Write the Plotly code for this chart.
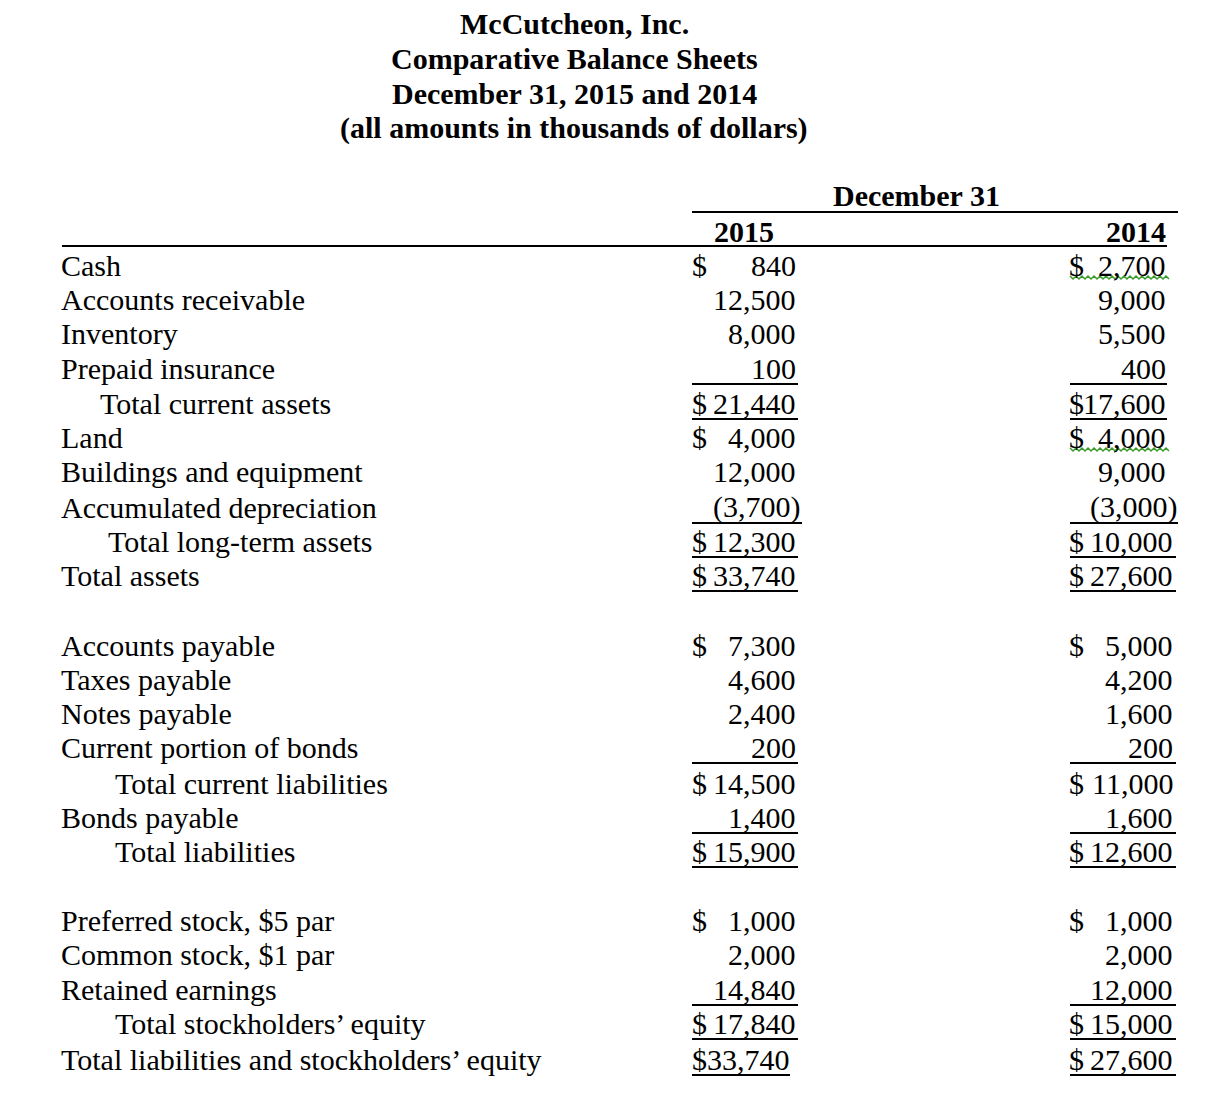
import plotly.graph_objects as go

# ---------------- data ----------------
title_lines = ["McCutcheon, Inc.", "Comparative Balance Sheets",
               "December 31, 2015 and 2014", "(all amounts in thousands of dollars)"]
group_header = "December 31"
years = ["2015", "2014"]

labels = [
    "Cash", "Accounts receivable", "Inventory", "Prepaid insurance",
    "Total current assets", "Land", "Buildings and equipment",
    "Accumulated depreciation", "Total long-term assets", "Total assets",
    "Accounts payable", "Taxes payable", "Notes payable",
    "Current portion of bonds", "Total current liabilities", "Bonds payable",
    "Total liabilities",
    "Preferred stock, $5 par", "Common stock, $1 par", "Retained earnings",
    "Total stockholders’ equity", "Total liabilities and stockholders’ equity",
]
values_2015 = [840, 12500, 8000, 100, 21440, 4000, 12000, -3700, 12300, 33740,
               7300, 4600, 2400, 200, 14500, 1400, 15900,
               1000, 2000, 14840, 17840, 33740]
values_2014 = [2700, 9000, 5500, 400, 17600, 4000, 9000, -3000, 10000, 27600,
               5000, 4200, 1600, 200, 11000, 1600, 12600,
               1000, 2000, 12000, 15000, 27600]
dollar_rows = [0, 4, 5, 8, 9, 10, 14, 16, 17, 20, 21]
underlined_rows = [3, 4, 7, 8, 9, 13, 15, 16, 19, 20, 21]

# ---------------- layout (positions / styles) ----------------
W, H = 1206, 1106
PAGE_OFF = 8      # default page margin of the html body
TX = -1           # small text nudge
FONT = "Liberation Serif"
FS = 30
row_y = [266, 300, 334, 369, 404, 438, 472, 508, 542, 576,
         646, 680, 714, 748, 784, 818, 852,
         921, 955, 990, 1024, 1060]
label_x = {4: 100, 8: 108, 14: 115, 16: 115, 20: 115}
LEFT_X = 61
title_y = [24, 59, 94, 129]
TITLE_X = 575

col_dollar_x = [692, 1069]
tight_cells = {(0, 21)}  # (column, row) printed as "$33,740"
wavy_cells = [(1, 0), (1, 5)]


def fmt(v):
    s = f"{abs(v):,}"
    return f"({s})" if v < 0 else s


def right_edge(col, row, v):
    if col == 0:
        return 802 if v < 0 else 798
    if v < 0:
        return 1179
    return 1168 if row < 8 else 1175


def underline_extent(col, row, v):
    if col == 0:
        if row == 21:
            return 692, 790
        return (692, 802) if v < 0 else (692, 798)
    if v < 0:
        return 1070, 1178
    return (1070, 1167) if row < 8 else (1070, 1176)


annotations = []
shapes = []


def add_text(x, y, text, anchor="left", bold=False, size=FS):
    annotations.append(dict(
        x=x + TX, y=y + TX, xref="x", yref="y",
        text=f"<b>{text}</b>" if bold else text,
        showarrow=False, xanchor=anchor, yanchor="middle",
        font=dict(family=FONT, size=size, color="black"), borderpad=0))


def hline(x0, x1, y, width=2):
    shapes.append(dict(type="line", xref="x", yref="y", x0=x0, x1=x1, y0=y, y1=y,
                       line=dict(color="black", width=width)))


# title
for t, y in zip(title_lines, title_y):
    add_text(TITLE_X, y, t, anchor="center", bold=True)

# header
add_text(917, 196, group_header, anchor="center", bold=True)
add_text(745, 232, years[0], anchor="center", bold=True)
add_text(1168, 232, years[1], anchor="right", bold=True)
hline(692, 1178, 212)
hline(62, 1167, 246)

# rows
for i, lab in enumerate(labels):
    y = row_y[i]
    add_text(label_x.get(i, LEFT_X), y, lab)
    for col, vals in enumerate([values_2015, values_2014]):
        v = vals[i]
        if (col, i) in tight_cells:
            add_text(col_dollar_x[col], y, "$" + fmt(v))
        else:
            if i in dollar_rows:
                add_text(col_dollar_x[col], y, "$")
            add_text(right_edge(col, i, v), y, fmt(v), anchor="right")
        if i in underlined_rows:
            x0, x1 = underline_extent(col, i, v)
            hline(x0, x1, y + 15)

# spell-check style wavy underline seen in the source
for col, i in wavy_cells:
    y0 = row_y[i] + 11
    pts = []
    x = 1070
    k = 0
    while x <= 1170:
        pts.append(f"{x},{y0 + (2 if k % 2 else -1)}")
        x += 3
        k += 1
    path = "M " + " L ".join(pts)
    shapes.append(dict(type="path", xref="x", yref="y", path=path,
                       line=dict(color="#3a9a2a", width=1.5)))

fig = go.Figure()
fig.add_trace(go.Scatter(x=[PAGE_OFF, W], y=[PAGE_OFF, H], mode="markers",
                         marker=dict(opacity=0), hoverinfo="skip", showlegend=False))
fig.update_layout(
    width=W, height=H, margin=dict(l=0, r=0, t=0, b=0),
    paper_bgcolor="white", plot_bgcolor="white",
    xaxis=dict(range=[PAGE_OFF, W + PAGE_OFF], visible=False, fixedrange=True),
    yaxis=dict(range=[H + PAGE_OFF, PAGE_OFF], visible=False, fixedrange=True),
    annotations=annotations, shapes=shapes, showlegend=False,
)
fig.write_html("out.html")
